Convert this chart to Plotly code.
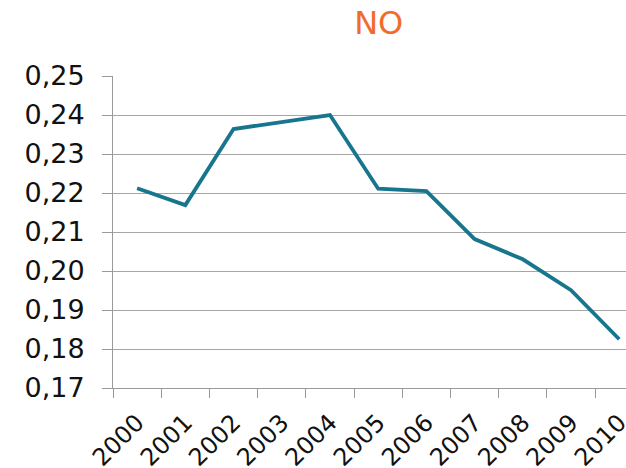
import plotly.graph_objects as go

years = ["2000", "2001", "2002", "2003", "2004", "2005", "2006", "2007", "2008", "2009", "2010"]
values = [0.2212, 0.2169, 0.2364, 0.2382, 0.2400, 0.2211, 0.2205, 0.2082, 0.2030, 0.1951, 0.1825]
y_ticks = [0.17, 0.18, 0.19, 0.20, 0.21, 0.22, 0.23, 0.24, 0.25]

fig = go.Figure()
fig.add_trace(go.Scatter(
    x=years, y=values, mode="lines",
    line=dict(color="#17768e", width=3.8),
    hoverinfo="skip",
))

fig.update_layout(
    width=626, height=468,
    margin=dict(l=113, r=0, t=76, b=80),
    paper_bgcolor="white", plot_bgcolor="white",
    separators=", ",
    showlegend=False,
    font=dict(family="DejaVu Sans", color="#111111"),
    title=dict(text="NO", x=0.605, xanchor="center", y=0.951, yanchor="middle",
               font=dict(size=32, color="#f26b2b", family="DejaVu Sans")),
)

fig.update_xaxes(
    type="category",
    range=[-0.5, 10.14],
    tickson="boundaries",
    ticks="outside", ticklen=9, tickcolor="#999999", tickwidth=1,
    tickangle=-45,
    ticklabelstandoff=10,
    tickfont=dict(size=24, family="DejaVu Sans", color="#111111"),
    showline=True, linecolor="#999999", linewidth=1,
    showgrid=False, zeroline=False,
    automargin=False,
)

fig.update_yaxes(
    range=[0.17, 0.25],
    tickvals=y_ticks,
    tickformat=".2f",
    ticks="outside", ticklen=10, tickcolor="#999999", tickwidth=1,
    ticklabelstandoff=12,
    tickfont=dict(size=27, family="DejaVu Sans", color="#111111"),
    showline=True, linecolor="#999999", linewidth=1,
    showgrid=True, gridcolor="#a6a6a6", gridwidth=1,
    zeroline=False,
    automargin=False,
)

fig.write_html(
    "out.html",
    config={"displayModeBar": False, "staticPlot": True},
    post_script="document.body.style.margin='0';document.body.style.overflow='hidden';",
)
